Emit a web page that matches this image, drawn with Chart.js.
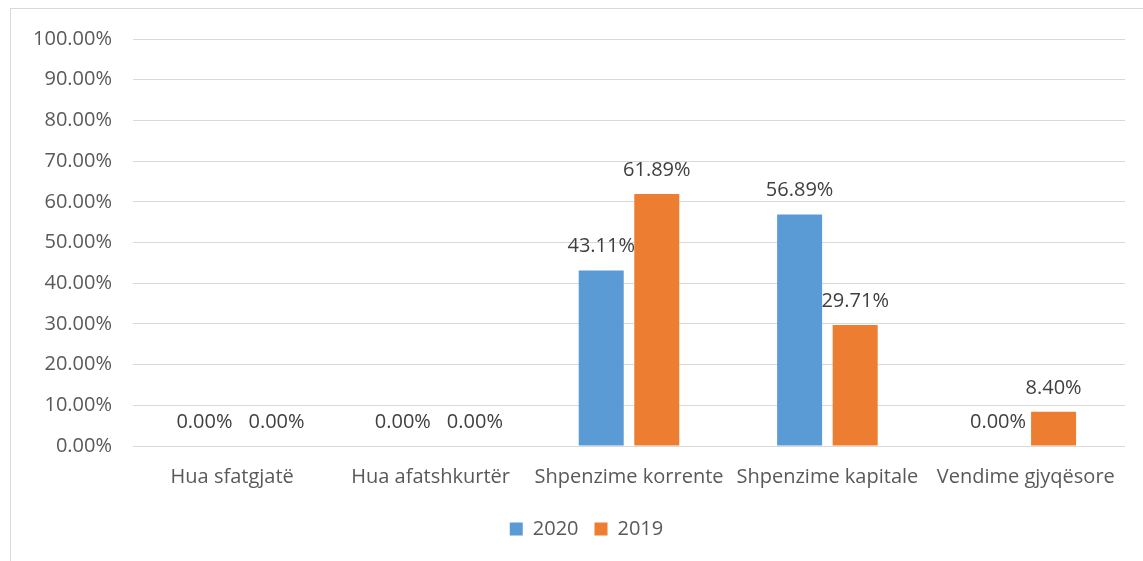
<!DOCTYPE html>
<html>
<head>
<meta charset="utf-8">
<script src="https://cdn.jsdelivr.net/npm/chart.js@4"></script>
<style>
    html, body { margin: 0; padding: 0; background: #ffffff; overflow: hidden; }
    #frame {
        position: absolute;
        left: 10px;
        top: 8px;
        width: 1160px;
        height: 580px;
        border: 1px solid #d9d9d9;
        box-sizing: border-box;
    }
    #wrap { position: absolute; left: 0; top: 0; width: 1143px; height: 561px; }
</style>
</head>
<body>
<div id="frame"></div>
<div id="wrap"><canvas id="chart" width="1143" height="561"></canvas></div>
<script>
const categories = ['Hua sfatgjatë', 'Hua afatshkurtër', 'Shpenzime korrente', 'Shpenzime kapitale', 'Vendime gjyqësore'];
const values2020 = [0.00, 0.00, 43.11, 56.89, 0.00];
const values2019 = [0.00, 0.00, 61.89, 29.71, 8.40];
const yTicks = [0, 10, 20, 30, 40, 50, 60, 70, 80, 90, 100];

const FONT = '"Open Sans", Lato, sans-serif';
const FONT_SIZE = 20;

// value labels above each bar; labels that collide inside a category get pushed right
const barLabels = {
    id: 'barLabels',
    afterDatasetsDraw(chart) {
        const ctx = chart.ctx;
        ctx.save();
        ctx.font = FONT_SIZE + 'px ' + FONT;
        ctx.fillStyle = '#404040';
        ctx.textAlign = 'left';
        ctx.textBaseline = 'middle';

        const perIndex = {};
        chart.data.datasets.forEach((ds, di) => {
            const meta = chart.getDatasetMeta(di);
            meta.data.forEach((bar, i) => {
                const text = ds.data[i].toFixed(2) + '%';
                const w = ctx.measureText(text).width;
                (perIndex[i] = perIndex[i] || []).push({ text, w, x: bar.x - w / 2, y: bar.y - 24 });
            });
        });

        Object.values(perIndex).forEach(list => {
            list.sort((a, b) => a.x - b.x);
            for (let k = 1; k < list.length; k++) {
                const prev = list[k - 1];
                const cur = list[k];
                if (Math.abs(prev.y - cur.y) < 20 && cur.x < prev.x + prev.w + 16) {
                    cur.x = prev.x + prev.w + 16;
                }
            }
            list.forEach(l => ctx.fillText(l.text, l.x, l.y));
        });
        ctx.restore();
    }
};

// nudge the legend a little to the right of the canvas centre
const legendShift = {
    id: 'legendShift',
    afterLayout(chart) {
        const lg = chart.legend;
        if (!lg) return;
        lg.left += 24;
        lg.right += 24;
    }
};

new Chart(document.getElementById('chart'), {
    type: 'bar',
    data: {
        labels: categories,
        datasets: [
            {
                label: '2020',
                data: values2020,
                backgroundColor: '#5b9bd5',
                categoryPercentage: 0.56,
                barPercentage: 0.81
            },
            {
                label: '2019',
                data: values2019,
                backgroundColor: '#ed7d31',
                categoryPercentage: 0.56,
                barPercentage: 0.81
            }
        ]
    },
    options: {
        responsive: false,
        animation: false,
        layout: {
            padding: { left: 0, right: 18, top: 39, bottom: 12 }
        },
        plugins: {
            legend: {
                display: true,
                position: 'bottom',
                labels: {
                    boxWidth: 13,
                    boxHeight: 13,
                    padding: 16,
                    color: '#595959',
                    font: { family: FONT, size: FONT_SIZE }
                }
            },
            tooltip: { enabled: false }
        },
        scales: {
            x: {
                grid: { display: false, drawTicks: false },
                border: { display: false },
                ticks: {
                    color: '#595959',
                    font: { family: FONT, size: FONT_SIZE },
                    padding: 19,
                    maxRotation: 0,
                    autoSkip: false
                },
                afterFit(scale) { scale.height = 57; }
            },
            y: {
                min: 0,
                max: 100,
                afterBuildTicks(scale) {
                    scale.ticks = yTicks.map(v => ({ value: v }));
                },
                grid: { color: '#d9d9d9', lineWidth: 1, drawTicks: false },
                border: { display: false },
                ticks: {
                    color: '#595959',
                    font: { family: FONT, size: FONT_SIZE },
                    padding: 21,
                    callback: v => v.toFixed(2) + '%'
                },
                afterFit(scale) { scale.width = 133; }
            }
        }
    },
    plugins: [barLabels, legendShift]
});
</script>
</body>
</html>
